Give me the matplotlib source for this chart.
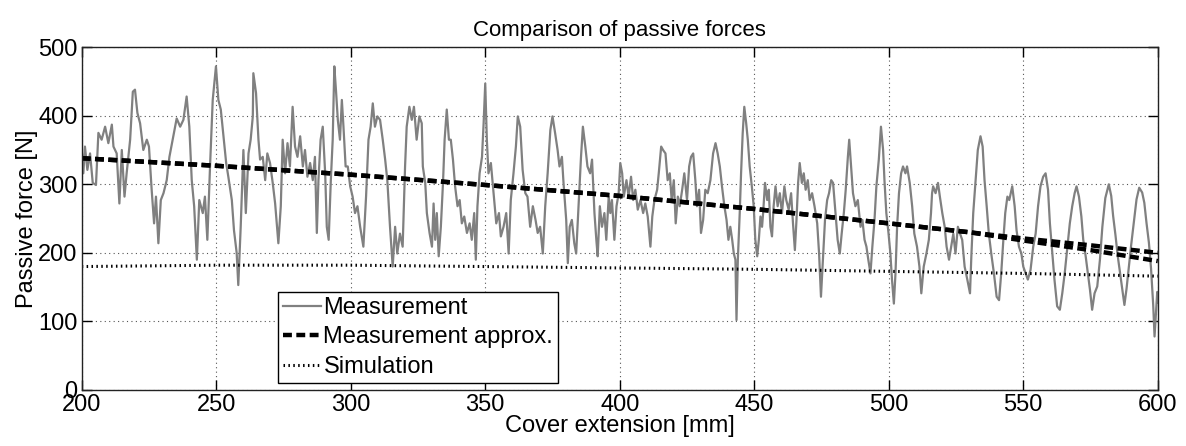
import matplotlib
matplotlib.use("Agg")
import matplotlib.pyplot as plt

plt.rcParams['font.family'] = ['Liberation Sans', 'DejaVu Sans']

# ---- data ----
meas_x = [200, 200.6, 201.2, 202.1, 203.1, 204.1, 205.3, 206.2, 207.4, 208.7, 209.9, 211.2, 211.8, 213.0, 214.0, 214.9, 215.9, 216.7, 218.0, 219.0, 219.8, 220.7, 221.7, 222.9, 224.2, 225.0, 226.0, 226.9, 227.6, 228.5, 229.4, 230.4, 231.6, 232.6, 233.8, 235.3, 236.6, 237.8, 239.0, 240.0, 240.9, 241.8, 242.8, 243.7, 245.0, 245.8, 246.7, 247.7, 248.7, 249.9, 250.8, 251.7, 252.7, 253.7, 254.5, 255.8, 256.6, 257.6, 258.2, 259.1, 260.1, 261.0, 262.0, 262.8, 263.6,
          263.8, 264.8, 265.7, 266.3, 267.3, 268.2, 269.0, 270.0, 271.0, 271.9, 273.1, 274.0, 274.7, 275.6, 276.5, 277.4, 278.4, 279.3, 280.2, 281.2, 282.2, 283.0, 283.9, 284.9, 285.9, 286.7, 287.4, 288.0, 288.8, 289.6, 290.5, 291.1, 291.8, 292.6, 293.3, 293.9, 294.5, 295.2, 296.0, 296.7, 297.3, 298.1, 298.9, 299.8, 300.7, 301.6, 302.5, 303.5, 304.7, 305.7, 306.6, 307.4, 308.2, 309.0, 309.9, 310.9, 311.9, 312.8, 313.6, 314.6, 315.6, 316.5, 317.3, 318.3, 319.3, 320.2, 320.8, 321.8, 322.7, 323.5, 324.5, 325.5, 326.4,
          326.8, 327.7, 328.3, 329.3, 330.2, 330.8, 331.4, 332.0, 332.7, 333.5, 334.3, 334.9, 335.7, 336.5, 337.2, 338.0, 338.8, 339.7, 340.5, 341.3, 342.2, 343.2, 344.2, 345.0, 345.9, 346.5, 347.1, 347.9, 348.8, 349.4, 350.0, 350.6, 351.2, 352.1, 353.1, 354.1, 355.1, 355.8, 356.8, 357.8, 358.7, 359.5, 360.5, 361.4, 362.1, 363.0, 363.9, 364.9, 365.7, 366.7, 367.7, 368.7, 369.5, 370.4, 371.4, 372.3, 373.2, 374.2, 375.0, 376.0, 376.9, 377.6, 378.5, 379.1, 380.1, 380.7, 381.4, 382.2, 383.1, 383.8, 384.7, 385.6, 386.3, 387.2, 388.0, 389.0, 389.7,
          390.1, 390.6, 391.3, 391.8, 392.6, 393.4, 394.3, 395.0, 395.9, 396.5, 397.1, 398.0, 398.8, 399.6, 400.2, 400.9, 401.5, 402.5, 403.3, 404.2, 405.0, 405.8, 406.7, 407.7, 408.7, 409.5, 410.4, 411.4, 412.1, 412.9, 413.9, 414.5, 415.4, 416.1, 417.0, 417.8, 418.6, 419.3, 420.1, 420.8, 421.6, 422.3, 423.2, 424.0, 425.0, 425.8, 426.5, 427.3, 428.1, 428.7, 429.5, 430.2, 431.0, 431.8, 432.7, 433.7, 434.7, 435.6, 436.4, 437.2, 438.0, 438.9, 439.7, 440.4, 441.1, 441.8, 442.4, 443.0, 443.4, 443.9, 444.6, 445.1, 445.7, 446.3, 447.0, 447.6, 448.3, 449.1, 449.8, 450.4, 451.1, 451.7, 452.3, 452.9,
          453.3, 454.0, 454.8, 455.4, 456.0, 456.6, 457.2, 457.9, 458.7, 459.5, 460.3, 461.2, 461.9, 462.8, 463.7, 464.4, 465.1, 465.7, 466.3, 466.9, 467.7, 468.4, 469.1, 469.9, 470.6, 471.5, 472.4, 473.4, 474.1, 474.8, 475.6, 476.3, 477.1, 477.8, 478.6, 479.3, 480.2, 481.0, 481.8, 482.5, 483.3, 484.0, 484.8, 485.3, 486.0, 486.7, 487.6, 488.5, 489.5, 490.2, 491.0, 491.7, 492.4, 493.2, 493.9, 494.7, 495.4, 496.3, 497.1, 497.9, 498.4, 499.1, 499.9, 500.6, 501.2, 501.9, 502.5, 503.1, 503.8, 504.6, 505.3, 506.2, 506.8, 507.8, 508.7, 509.5, 510.5, 511.4, 512.1, 513.0, 514.0, 514.9, 515.7, 516.1,
          516.5, 517.4, 518.3, 519.0, 519.9, 520.8, 521.5, 522.4, 523.2, 524.0, 524.8, 525.7, 526.5, 527.3, 528.2, 529.2, 530.2, 530.7, 531.4, 532.3, 533.1, 534.1, 534.9, 535.6, 536.4, 537.2, 538.1, 539.1, 540.1, 541.0, 541.8, 542.6, 543.3, 544.1, 544.8, 545.9, 546.8, 547.5, 548.4, 549.3, 550.0, 550.9, 551.7, 552.7, 553.7, 554.6, 555.5, 556.4, 557.4, 558.3, 559.2, 559.9, 560.8, 561.6, 562.6, 563.6, 564.5, 565.4, 566.4, 567.3, 568.2, 569.1, 569.8, 570.7, 571.6, 572.3, 573.2, 574.0, 574.8, 575.6, 576.5, 577.5, 578.5, 579.4,
          580.5, 581.8, 582.7, 583.4, 584.3, 585.1, 586.1, 586.9, 587.6, 588.4, 589.2, 590.1, 591.1, 592.1, 593.1, 594.2, 595.0, 595.8, 596.7, 597.5, 598.3, 598.8, 599.3, 599.8, 600]
meas_y = [350, 316, 355, 321, 345, 302, 299, 375, 365, 384, 360, 387, 355, 345, 272, 350, 282, 316, 365, 435, 438, 404, 389, 350, 365, 355, 292, 243, 282, 214, 277, 287, 306, 340, 365, 396, 384, 394, 428, 384, 306, 268, 190, 277, 258, 282, 219, 326, 423, 472, 423, 409, 370, 331, 311, 277, 233, 200, 153, 238, 350, 258, 345, 365, 399,
          462, 433, 365, 336, 340, 306, 345, 331, 302, 272, 214, 268, 365, 316, 360, 326, 413, 355, 340, 370, 326, 350, 311, 331, 306, 340, 229, 306, 365, 384, 316, 238, 219, 306, 365, 472, 438, 394, 365, 423, 384, 326, 326, 297, 282, 258, 268, 238, 209, 282, 365, 384, 418, 384, 399, 394, 365, 336, 306, 238, 180, 238, 199, 228, 209, 326, 384, 413, 394, 413, 365, 399, 389,
          326, 302, 258, 229, 209, 272, 219, 258, 195, 238, 302, 365, 409, 365, 365, 336, 297, 268, 277, 243, 253, 229, 243, 219, 258, 190, 268, 316, 340, 389, 447, 365, 316, 331, 287, 243, 258, 224, 238, 258, 199, 277, 316, 355, 399, 384, 321, 287, 282, 238, 268, 248, 229, 238, 199, 268, 316, 379, 399, 374, 350, 326, 340, 302, 248, 185, 238, 248, 214, 199, 268, 340, 384, 355, 326, 316, 336,
          302, 258, 219, 195, 268, 238, 258, 219, 282, 258, 277, 219, 268, 287, 331, 316, 282, 306, 282, 311, 277, 292, 263, 277, 258, 272, 253, 209, 253, 277, 292, 316, 355, 350, 345, 306, 316, 277, 306, 243, 282, 268, 292, 316, 277, 326, 340, 345, 306, 268, 292, 229, 248, 292, 287, 306, 345, 360, 345, 326, 297, 268, 248, 219, 238, 219, 199, 190, 102, 190, 258, 316, 374, 413, 389, 365, 326, 297, 268, 219, 195, 219, 253, 238,
          258, 302, 277, 292, 238, 224, 268, 297, 268, 287, 258, 297, 277, 263, 287, 243, 204, 248, 302, 331, 302, 316, 292, 306, 277, 287, 268, 243, 199, 136, 195, 248, 277, 287, 306, 302, 258, 219, 199, 228, 258, 292, 340, 365, 326, 287, 268, 277, 238, 248, 219, 209, 190, 170, 209, 248, 297, 336, 384, 350, 306, 258, 229, 199, 161, 126, 170, 238, 287, 316, 326, 316, 326, 302, 268, 228, 209, 180, 141, 180, 199, 219, 258, 287,
          297, 287, 302, 282, 258, 238, 209, 190, 209, 228, 199, 238, 228, 219, 180, 161, 141, 195, 258, 306, 350, 370, 355, 306, 268, 228, 199, 170, 136, 131, 170, 219, 258, 282, 277, 297, 268, 233, 209, 199, 180, 170, 161, 175, 209, 228, 268, 297, 311, 316, 292, 243, 199, 161, 122, 117, 141, 170, 209, 243, 268, 287, 297, 282, 253, 219, 195, 170, 146, 117, 141, 151, 190, 238,
          280, 300, 283, 254, 225, 196, 167, 143, 124, 148, 177, 211, 244, 278, 295, 288, 273, 244, 215, 177, 124, 78, 110, 143, 128]

approx_x = [200, 250, 300, 350, 400, 450, 500, 530, 550, 575, 600]
approx1_y = [338, 327, 314, 299, 283, 264, 243, 230, 221, 211, 200]
approx2_y = [338, 327, 314, 299, 283, 264, 243, 230, 218, 204, 188]

sim_x = [200, 250, 300, 350, 400, 450, 500, 550, 600]
sim_y = [180, 182, 182, 180, 178, 176, 173, 170, 166]

x_ticks = [200, 250, 300, 350, 400, 450, 500, 550, 600]
y_ticks = [0, 100, 200, 300, 400, 500]

# ---- figure ----
FS = 17
fig = plt.figure(figsize=(11.86, 4.46), dpi=100)
ax = fig.add_axes([0.0689, 0.1256, 0.9073, 0.7687])

l1, = ax.plot(meas_x, meas_y, color='#808080', lw=1.6, label='Measurement')
l2, = ax.plot(approx_x, approx1_y, color='black', lw=3.2, ls=(0, (2.0, 1.0)),
              label='Measurement approx.')
ax.plot(approx_x, approx2_y, color='black', lw=3.2, ls=(0, (2.0, 1.0)))
l3, = ax.plot(sim_x, sim_y, color='black', lw=2.2, ls=(0, (0.5, 1.1)),
              label='Simulation')

ax.set_xlim(200, 600)
ax.set_ylim(0, 500)
ax.set_xticks(x_ticks)
ax.set_yticks(y_ticks)
ax.grid(True, ls=(0, (1, 3)), color='#555555', lw=0.8)
ax.tick_params(direction='in', length=7, width=1, top=True, right=True,
               labelsize=FS, pad=3, colors='black')
for s in ax.spines.values():
    s.set_linewidth(1.0)
    s.set_color('#222222')

ax.set_xlabel('Cover extension [mm]', fontsize=FS, labelpad=-1)
ax.set_ylabel('Passive force [N]', fontsize=FS, labelpad=0)
ax.set_title('Comparison of passive forces', fontsize=16, pad=8)

leg = ax.legend(handles=[l1, l2, l3], loc='lower left',
                bbox_to_anchor=(0.1825, 0.02), fontsize=FS,
                handlelength=1.6, handletextpad=0.1, labelspacing=0.32,
                borderpad=0.22, borderaxespad=0, fancybox=False, framealpha=1,
                edgecolor='black')
leg.get_frame().set_linewidth(1.0)

fig.savefig('out.png', dpi=100)
